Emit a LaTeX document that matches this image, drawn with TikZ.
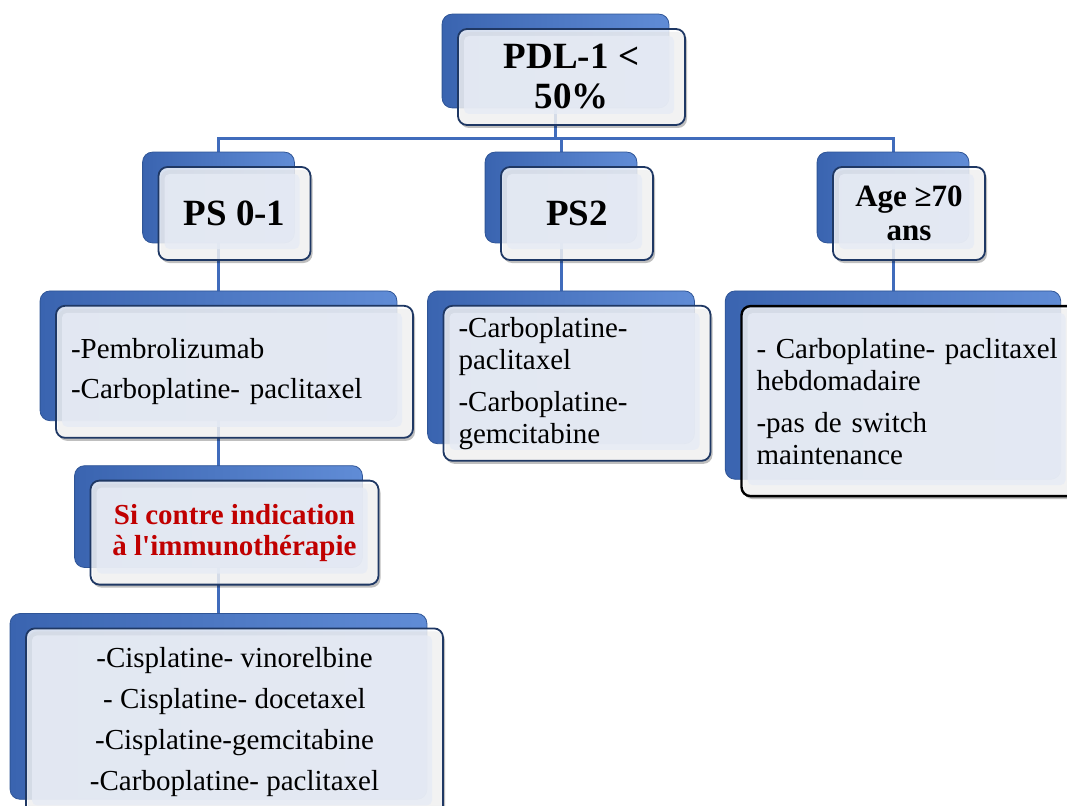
\documentclass[tikz,border=0pt]{standalone}
\usepackage{fontspec}
\setmainfont{Liberation Serif}
\usepackage{tikz}
\usetikzlibrary{positioning, fit, shadows}

\definecolor{navy}{RGB}{31,56,100}
\definecolor{cardin}{RGB}{230,235,245}
\definecolor{tabdark}{RGB}{58,100,176}
\definecolor{tablight}{RGB}{96,140,214}
\definecolor{tabedge}{RGB}{47,85,151}
\definecolor{linkblue}{RGB}{64,108,188}
\definecolor{crimson}{RGB}{192,0,0}

% calques : liens sous les onglets, onglets sous les cartes
\pgfdeclarelayer{links}
\pgfdeclarelayer{tabs}
\pgfsetlayers{links,tabs,main}

\begin{document}
\begin{tikzpicture}[x=1pt, y=-1pt,
    card/.style={draw=navy, line width=1.8pt, rounded corners=9pt, fill=white, fill opacity=0.8, text opacity=1, inner sep=0pt,
      drop shadow={shadow xshift=2pt, shadow yshift=-3pt, opacity=0.25, fill=black},
      path picture={\fill[cardin, rounded corners=5pt]
        ([shift={(6,7)}]path picture bounding box.north west) rectangle
        ([shift={(-11,-11)}]path picture bounding box.south east);}},
    head/.style={card, minimum width=152pt, minimum height=93pt, align=center, font=\fontsize{37}{40}\selectfont\bfseries},
    list/.style={card, align=left, inner xsep=15pt, font=\fontsize{29}{32}\selectfont},
    tab/.style={rounded corners=10pt, left color=tabdark, right color=tablight, draw=tabedge, line width=0.8pt, inner sep=0pt},
    link/.style={draw=linkblue, line width=3pt}]

    \useasboundingbox (0,0) rectangle (1067,805);

    % Racine
    \node[head, minimum width=227pt, minimum height=96pt] (pdl) at (571.5,77) {PDL-1 <\\50\%};

    % Etat general / age
    \node[head] (ps01) at (234.5,213.5) {PS 0-1};
    \node[head] (ps2) at (577,213.5) {PS2};
    \node[head, font=\fontsize{31}{34}\selectfont\bfseries] (age) at (909,213.5) {Age ≥70\\ans};

    % Protocoles
    \node[list, minimum width=357pt, minimum height=132pt, text width=327pt, below=44pt of ps01] (pembro)
        {-Pembrolizumab\\[8pt]-Carboplatine- paclitaxel};
    \node[list, minimum width=267pt, minimum height=155pt, text width=237pt, below=44pt of ps2] (carbo)
        {-Carboplatine-\\paclitaxel\\[10pt]-Carboplatine-\\gemcitabine};
    \node[list, draw=black, line width=2.4pt, minimum width=335pt, minimum height=190pt, text width=305pt, below=44pt of age] (hebdo)
        {- Carboplatine- paclitaxel\\hebdomadaire\\[10pt]-pas de switch\\maintenance};

    % Contre-indication
    \node[card, minimum width=288pt, minimum height=104pt, align=center, text=crimson,
          font=\fontsize{29}{31}\selectfont\bfseries, below=41pt of pembro] (contre)
        {Si contre indication\\à l{\addfontfeatures{Ligatures=TeXOff}'}immunothérapie};
    \node[list, align=center, minimum width=417pt, minimum height=188pt, font=\fontsize{29}{41}\selectfont, below=42pt of contre] (cis)
        {-Cisplatine- vinorelbine\\- Cisplatine- docetaxel\\-Cisplatine-gemcitabine\\-Carboplatine- paclitaxel};

    % Onglets bleus derriere les cartes
    \begin{pgfonlayer}{tabs}
      \foreach \n in {pdl,ps01,ps2,age,pembro,carbo,hebdo,contre,cis}
        \node[tab, fit={([shift={(-15,-14)}]\n.north west) ([shift={(-17,-18)}]\n.south east)}] (\n-tab) {};
    \end{pgfonlayer}

    % Liens
    \coordinate (bus) at (0,139);
    \begin{pgfonlayer}{links}
      \fill[white] (0,0) rectangle (1067,805);
      \draw[link] (pdl-tab.center) -- (pdl-tab.center |- bus) -| (ps01-tab.center);
      \draw[link] (pdl-tab.center |- bus) -| (ps2-tab.center);
      \draw[link] (pdl-tab.center |- bus) -| (age-tab.center);
      \draw[link] (ps01-tab.center) -- (pembro-tab.center) -- (contre-tab.center) -- (cis-tab.center);
      \draw[link] (ps2-tab.center) -- (carbo-tab.center);
      \draw[link] (age-tab.center) -- (hebdo-tab.center);
    \end{pgfonlayer}

\end{tikzpicture}
\end{document}
